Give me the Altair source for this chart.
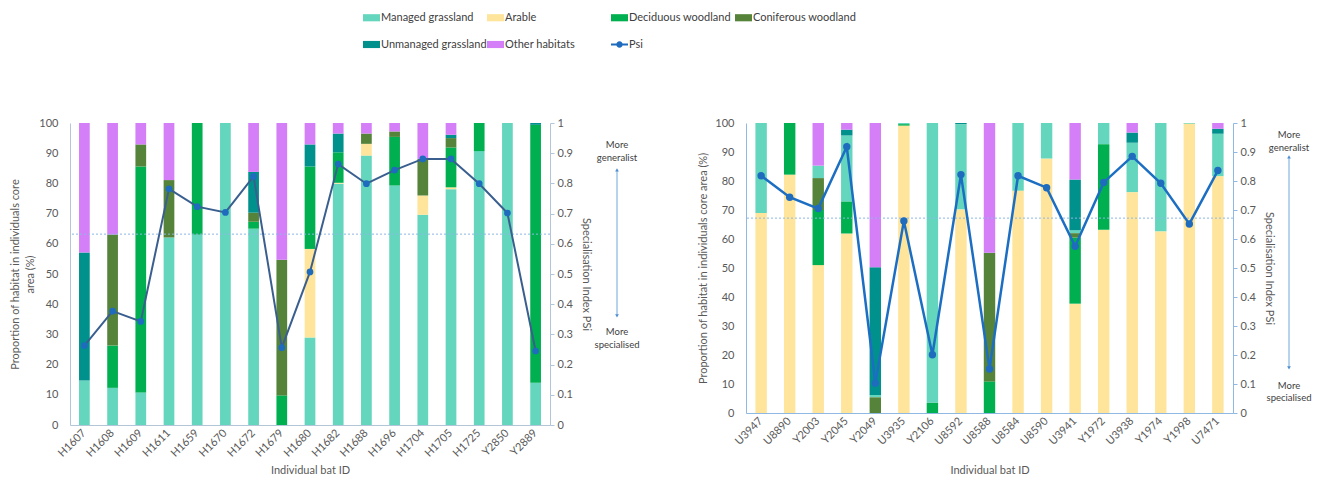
import altair as alt
import pandas as pd

# Habitat classes (legend / colour order) and their colours
HABITATS = ["Managed grassland", "Arable", "Deciduous woodland",
            "Coniferous woodland", "Unmanaged grassland", "Other habitats"]
HABITAT_COLOURS = ["#63d6bd", "#fee59b", "#00b050", "#55833a", "#00918d", "#d47ff8"]
PSI_NAME = "Psi"
PSI_COLOUR = "#1f6cbf"

# ---- Site 1 (H / Y bats) : % of core area per habitat ----
BATS_1 = ["H1607", "H1608", "H1609", "H1611", "H1659", "H1670", "H1672", "H1679", "H1680",
          "H1682", "H1688", "H1696", "H1704", "H1705", "H1725", "Y2850", "Y2889"]
MANAGED_1 = [14.7, 12.3, 10.8, 62.1, 63.0, 100.0, 65.0, 0.0, 29.0, 79.9, 89.2, 79.3, 69.6, 78.1, 90.7, 100.0, 14.0]
ARABLE_1 = [0, 0, 0, 0, 0, 0, 0, 0, 29.3, 0.3, 3.9, 0, 6.4, 0.6, 0, 0, 0]
DECIDUOUS_1 = [0, 14.0, 74.8, 0, 37.0, 0, 2.3, 9.8, 27.3, 10.1, 0, 16.1, 0, 13.2, 9.3, 0, 85.4]
CONIFEROUS_1 = [0, 36.8, 7.3, 19.0, 0, 0, 3.0, 44.9, 0, 0, 3.4, 1.8, 12.1, 3.1, 0, 0, 0]
UNMANAGED_1 = [42.4, 0, 0, 0, 0, 0, 13.5, 0, 7.3, 6.2, 0, 0, 0, 1.1, 0, 0, 0.6]
OTHER_1 = [42.9, 36.9, 7.1, 18.9, 0, 0, 16.2, 45.3, 7.1, 3.5, 3.5, 2.8, 11.9, 3.9, 0, 0, 0]
PSI_1 = [0.263, 0.377, 0.343, 0.782, 0.723, 0.704, 0.823, 0.256, 0.507,
         0.864, 0.799, 0.844, 0.881, 0.881, 0.799, 0.702, 0.245]
MEAN_PSI_1 = 0.632
STACK_1 = ["Managed grassland", "Arable", "Deciduous woodland",
           "Coniferous woodland", "Unmanaged grassland", "Other habitats"]

# ---- Site 2 (U / Y bats) ----
BATS_2 = ["U3947", "U8890", "Y2003", "Y2045", "Y2049", "U3935", "Y2106", "U8592", "U8588",
          "U8584", "U8590", "U3941", "Y1972", "U3938", "Y1974", "Y1998", "U7471"]
MANAGED_2 = [31.0, 0, 4.3, 22.8, 0.8, 0.4, 96.5, 29.4, 0, 23.4, 12.3, 1.0, 7.3, 17.1, 37.4, 0.3, 14.7]
ARABLE_2 = [69.0, 82.2, 51.0, 61.9, 0, 99.1, 0, 70.2, 0, 76.6, 87.7, 37.7, 63.2, 76.1, 62.6, 99.7, 81.6]
DECIDUOUS_2 = [0, 17.8, 19.0, 11.0, 0, 0.5, 3.5, 0, 10.9, 0, 0, 22.8, 29.5, 0, 0, 0, 0]
CONIFEROUS_2 = [0, 0, 11.0, 0, 5.4, 0, 0, 0, 44.4, 0, 0, 1.5, 0, 0, 0, 0, 0]
UNMANAGED_2 = [0, 0, 0, 2.0, 44.1, 0, 0, 0.4, 0, 0, 0, 17.5, 0, 3.5, 0, 0, 1.7]
OTHER_2 = [0, 0, 14.7, 2.3, 49.7, 0, 0, 0, 44.7, 0, 0, 19.5, 0, 3.3, 0, 0, 2.0]
PSI_2 = [0.818, 0.744, 0.705, 0.918, 0.103, 0.662, 0.201, 0.822, 0.152,
         0.818, 0.777, 0.575, 0.795, 0.885, 0.792, 0.652, 0.836]
MEAN_PSI_2 = 0.672
STACK_2 = ["Arable", "Deciduous woodland", "Coniferous woodland",
           "Managed grassland", "Unmanaged grassland", "Other habitats"]

Y_TITLE = "Proportion of habitat in individuals core area (%)"
PSI_TITLE = "Specialisation Index PSi"
X_TITLE = "Individual bat ID"
NOTE_TOP = ["More", "generalist"]
NOTE_BOTTOM = ["More", "specialised"]

FONT = "Lato"
TEXT_GREY = "#595959"

# legend swatches: flat rectangle for habitats, line-with-dot for Psi
RECT_PATH = "M-1,-0.42H1V0.42H-1Z"
PSI_PATH = ("M-1,-0.12H1V0.12H-1Z "
            "M0.38,0A0.38,0.38 0 1 1 -0.38,0A0.38,0.38 0 1 1 0.38,0Z")
SYMBOL_EXPR = f"datum.value === '{PSI_NAME}' ? '{PSI_PATH}' : '{RECT_PATH}'"

colour_scale = alt.Scale(domain=HABITATS + [PSI_NAME], range=HABITAT_COLOURS + [PSI_COLOUR])

legend = alt.Legend(
    title=None, orient="none", legendX=293, legendY=-114, direction="horizontal",
    columns=4, gridAlign="all", columnPadding=0, rowPadding=13,
    symbolSize=289, symbolType=alt.ExprRef(expr=SYMBOL_EXPR), symbolStrokeWidth=0,
    labelFont=FONT, labelFontSize=11, labelColor="#404040", labelOffset=1,
)


def habitat_table(bats, columns, stack_order):
    rows = []
    for habitat, values in zip(HABITATS, columns):
        rank = stack_order.index(habitat)
        for bat, v in zip(bats, values):
            if v > 0:
                rows.append({"bat": bat, "habitat": habitat, "share": v, "rank": rank})
    return pd.DataFrame(rows)


def panel(bats, columns, stack_order, psi, mean_psi, width, height, pad_inner, pad_outer,
          axis_colour, line_colour, line_width, point_size, y_title, y_title_pad,
          x_title_pad, note_dx, note_top, note_arrow, note_bottom):
    bars_df = habitat_table(bats, columns, stack_order)
    psi_df = pd.DataFrame({"bat": bats, "psi": psi, "habitat": PSI_NAME})

    x_enc = alt.X("bat:N", sort=bats,
                  scale=alt.Scale(paddingInner=pad_inner, paddingOuter=pad_outer),
                  axis=alt.Axis(title=X_TITLE, labelAngle=-45, labelAlign="right",
                                labelBaseline="middle", labelPadding=6, ticks=False,
                                domainColor=axis_colour, labelColor=TEXT_GREY,
                                labelFontSize=11, titleFontSize=11, titleColor=TEXT_GREY,
                                titleFontWeight="normal", titlePadding=x_title_pad))

    bars = alt.Chart(bars_df).mark_bar().encode(
        x=x_enc,
        y=alt.Y("share:Q", stack="zero", scale=alt.Scale(domain=[0, 100], nice=False),
                axis=alt.Axis(title=y_title, values=list(range(0, 101, 10)), ticks=False,
                              grid=False, domainColor=axis_colour, labelColor=TEXT_GREY,
                              labelFontSize=11, labelPadding=12, titleFontSize=11,
                              titleColor=TEXT_GREY, titleFontWeight="normal",
                              titleLineHeight=15, titlePadding=y_title_pad)),
        color=alt.Color("habitat:N", scale=colour_scale, legend=legend),
        order=alt.Order("rank:Q"),
    )

    psi_scale = alt.Scale(domain=[0, 1], nice=False)
    psi_axis = alt.Axis(title=PSI_TITLE, orient="right",
                        values=[0, 0.1, 0.2, 0.3, 0.4, 0.5, 0.6, 0.7, 0.8, 0.9, 1],
                        format="~g", grid=False, tickSize=4, tickColor=axis_colour,
                        domainColor=axis_colour, labelColor=TEXT_GREY, labelFontSize=11,
                        labelPadding=3, titleFontSize=11, titleColor=TEXT_GREY,
                        titleFontWeight="normal", titlePadding=8)

    mean_rule = alt.Chart(pd.DataFrame({"psi": [mean_psi]})).mark_rule(
        color="#8db7e4", strokeDash=[2, 2], strokeWidth=1
    ).encode(y=alt.Y("psi:Q", scale=psi_scale, axis=psi_axis))

    line = alt.Chart(psi_df).mark_line(color=line_colour, strokeWidth=line_width).encode(
        x=alt.X("bat:N", sort=bats),
        y=alt.Y("psi:Q", scale=psi_scale, axis=psi_axis),
    )
    points = alt.Chart(psi_df).mark_circle(size=point_size, opacity=1).encode(
        x=alt.X("bat:N", sort=bats),
        y=alt.Y("psi:Q", scale=psi_scale, axis=psi_axis),
        color=alt.Color("habitat:N", scale=colour_scale, legend=legend),
    )

    nx = alt.value(width + note_dx)
    notes_df = pd.DataFrame({"label": NOTE_TOP + NOTE_BOTTOM,
                             "pos": list(note_top) + list(note_bottom)})
    notes = alt.Chart(notes_df).mark_text(
        font=FONT, fontSize=9.5, color="#404040", align="center", baseline="middle"
    ).encode(x=nx, y=alt.Y("pos:Q", scale=psi_scale, axis=psi_axis), text="label:N")

    arrow_df = pd.DataFrame({"top": [note_arrow[0]], "bottom": [note_arrow[1]]})
    arrow = alt.Chart(arrow_df).mark_rule(color="#6fa6da", strokeWidth=1).encode(
        x=nx, y=alt.Y("top:Q", scale=psi_scale, axis=psi_axis), y2="bottom:Q")
    heads_df = pd.DataFrame({"pos": list(note_arrow),
                             "shape": ["triangle-up", "triangle-down"]})
    heads = alt.Chart(heads_df).mark_point(filled=True, size=14, color="#4f8fd0",
                                           opacity=1).encode(
        x=nx, y=alt.Y("pos:Q", scale=psi_scale, axis=psi_axis),
        shape=alt.Shape("shape:N", scale=None))

    psi_layer = alt.layer(mean_rule, line, points, arrow, heads, notes)
    return alt.layer(bars, psi_layer).resolve_scale(y="independent").properties(
        width=width, height=height)


left = panel(BATS_1, [MANAGED_1, ARABLE_1, DECIDUOUS_1, CONIFEROUS_1, UNMANAGED_1, OTHER_1],
             STACK_1, PSI_1, MEAN_PSI_1, 480, 302, 0.62, 0.32,
             "#b3c6d8", "#3a5f8f", 2, 45,
             ["Proportion of habitat in individuals core", "area (%)"], 3, 6,
             67, (0.928, 0.884), (0.845, 0.361), (0.309, 0.265))

right = panel(BATS_2, [MANAGED_2, ARABLE_2, DECIDUOUS_2, CONIFEROUS_2, UNMANAGED_2, OTHER_2],
              STACK_2, PSI_2, MEAN_PSI_2, 487, 290, 0.6, 0.33,
              "#8fb9e3", "#1c6ec3", 2.5, 55,
              Y_TITLE, 6, 18,
              56, (0.959, 0.914), (0.883, 0.156), (0.093, 0.051))

chart = alt.hconcat(left, right, spacing=57).resolve_scale(color="shared").properties(
    padding={"left": 9, "top": 9, "right": 0, "bottom": 2}
).configure_view(stroke=None).configure_axis(labelFont=FONT, titleFont=FONT)

chart.save("out.html", embed_options={"renderer": "svg", "actions": False})
